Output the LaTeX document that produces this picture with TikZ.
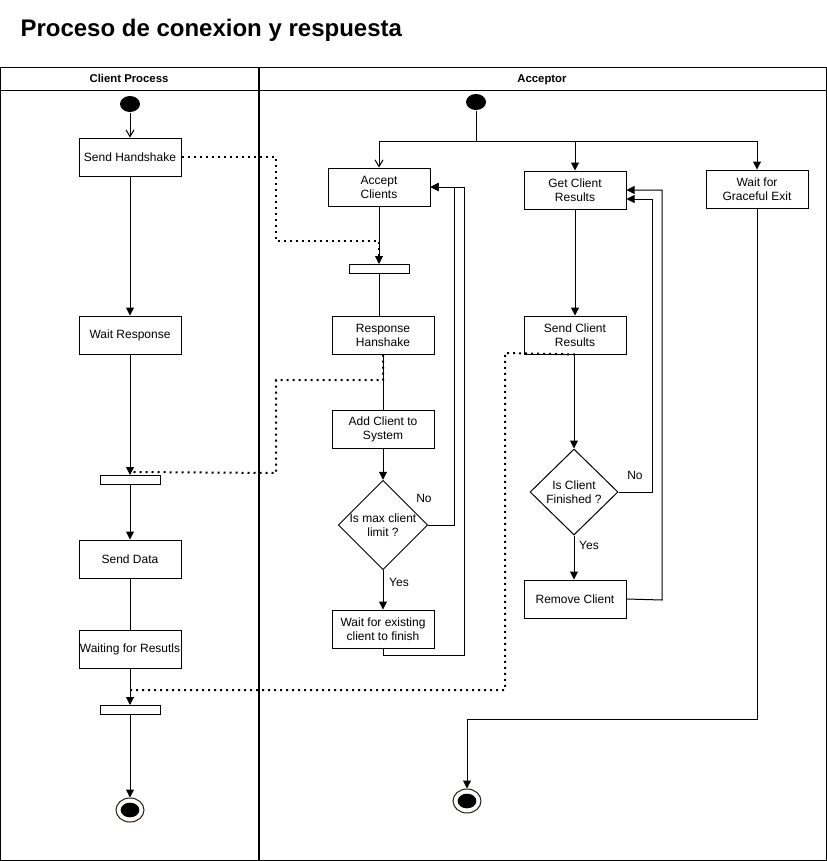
\documentclass[tikz,border=0pt]{standalone}
\usepackage{fontspec}
\setmainfont{Liberation Sans}
\usetikzlibrary{arrows.meta,shapes.geometric}
\tikzset{
  box/.style={draw, line width=0.75pt, minimum width=76.5pt, minimum height=28.5pt, inner sep=0pt, align=center, font=\fontsize{9}{10.5}\selectfont},
  bar/.style={draw, line width=0.75pt, minimum width=45pt, minimum height=6.75pt, inner sep=0pt},
  decision/.style={draw, diamond, line width=0.75pt, minimum width=66pt, minimum height=64.5pt, inner sep=0pt, align=center, font=\fontsize{9}{10.5}\selectfont},
  startdot/.style={ellipse, fill=black, minimum width=15pt, minimum height=12pt, inner sep=0pt},
  enddot/.style={ellipse, draw=black!80!brown, line width=0.75pt, minimum width=21pt, minimum height=18pt, inner sep=0pt},
  flow/.style={line width=0.75pt, -{Triangle[width=6pt,length=6pt]}},
  open/.style={line width=0.75pt, -{Straight Barb[width=6pt,length=5pt]}},
  dotline/.style={line width=1.5pt, dash pattern=on 1.5pt off 3pt},
  lbl/.style={font=\fontsize{9}{10.5}\selectfont, inner sep=0pt},
  lanehead/.style={font=\bfseries\fontsize{8.5}{10}\selectfont, text depth=0pt, anchor=base}
}
\begin{document}
\begin{tikzpicture}[x=0.75pt, y=-0.75pt, line width=0.75pt]
            \useasboundingbox (0,0) rectangle (827,861);
            % title and swimlanes
            \node[anchor=west, font=\bfseries\fontsize{18}{20}\selectfont, inner sep=0pt] (title) at (20,30) {Proceso de conexion y respuesta};
            \draw (0,67) rectangle (826,860);
            \draw (0,90) -- (826,90);
            \draw[line width=1pt] (259,67) -- (259,860);
            \node[lanehead] (lanec) at (129,82) {Client Process};
            \node[lanehead] (lanea) at (542,82) {Acceptor};
            % client process
            \node[startdot] (cstart) at (130,104) {};
            \node[box] (handshake) at (130,157) {Send Handshake};
            \node[box] (waitresp) at (130,335) {Wait Response};
            \node[bar] (bar1) at (130,480) {};
            \node[box] (senddata) at (130,559) {Send Data};
            \node[box] (waitres) at (130,649) {Waiting for Resutls};
            \node[bar] (bar2) at (130,710) {};
            \node[enddot] (cend) at (130,810) {};
            \node[startdot, minimum width=14pt, minimum height=11pt] (cendin) at (130,810) {};
            \draw[open] (cstart) -- (handshake);
            \draw[flow] (handshake) -- (waitresp);
            \draw[flow] (waitresp) -- (bar1);
            \draw[flow] (bar1) -- (senddata);
            \draw (senddata) -- (waitres);
            \draw[flow] (waitres) -- (bar2);
            \draw[flow] (bar2) -- (cend);
            % acceptor
            \node[startdot] (astart) at (476,102) {};
            \coordinate (fork) at (476,141);
            \node[box] (accept) at (379,187) {Accept\\Clients};
            \node[box] (getres) at (575,190) {Get Client\\Results};
            \node[box] (graceful) at (757,189) {Wait for\\Graceful Exit};
            \node[bar] (bar3) at (379,269) {};
            \node[box] (resp) at (383,335) {Response\\Hanshake};
            \node[box] (addcl) at (383,429) {Add Client to\\System};
            \node[decision] (maxlim) at (383,525) {Is max client\\limit ?};
            \node[box] (waitex) at (383,629) {Wait for existing\\client to finish};
            \node[box] (sendres) at (575,335) {Send Client\\Results};
            \node[decision] (isfin) at (574,492) {Is Client\\Finished ?};
            \node[box] (remove) at (575,599) {Remove Client};
            \node[enddot] (aend) at (467,801) {};
            \node[startdot, minimum width=14pt, minimum height=11pt] (aendin) at (467,801) {};
            \node[lbl] (nomax) at (424,498) {No};
            \node[lbl] (yesmax) at (399,582) {Yes};
            \node[lbl] (nofin) at (635,475) {No};
            \node[lbl] (yesfin) at (589,545) {Yes};
            \coordinate (nofinend) at (652,199);
            \draw (astart) -- (fork);
            \draw[open] (fork) -| (accept);
            \draw[flow] (fork) -| (getres);
            \draw[flow] (fork) -| (graceful);
            \draw[flow] (accept) -- (bar3);
            \draw (bar3) -- (bar3 |- resp.north);
            \draw (resp) -- (addcl);
            \draw[flow] (addcl) -- (maxlim);
            \draw[flow] (maxlim) -- (waitex);
            \draw[flow] (maxlim.east) -- (454,525) -- (454,187) -- (accept.east);
            \draw[flow] (waitex.south) -- (383,655) -- (464,655) -- (464,187) -- (accept.east);
            \draw[flow] (getres) -- (sendres);
            \draw[flow] (isfin |- sendres.south) -- (isfin);
            \draw[flow] (isfin) -- (isfin |- remove.north);
            \draw[flow] (isfin.east) -| (nofinend) -- (getres.east |- nofinend);
            \draw[flow] (remove.east) -- (662,600) -- (662,190) -- (getres.east);
            \draw[flow] (graceful.south) |- (467,719) -- (aend);
            % messages between lanes
            \draw[dotline] (handshake.east) -- (276,157) -- (276,241) -- (379,241) -- ([yshift=4.5pt]bar3.north);
            \draw[dotline] (resp.south) -- (383,380) -- (276,380) -- (276,473) -- ([yshift=2.25pt]bar1.north);
            \draw[dotline] (sendres.south) -- (505,353) -- (505,690) -- ([yshift=11.25pt]bar2.north);
        \end{tikzpicture}
\end{document}
